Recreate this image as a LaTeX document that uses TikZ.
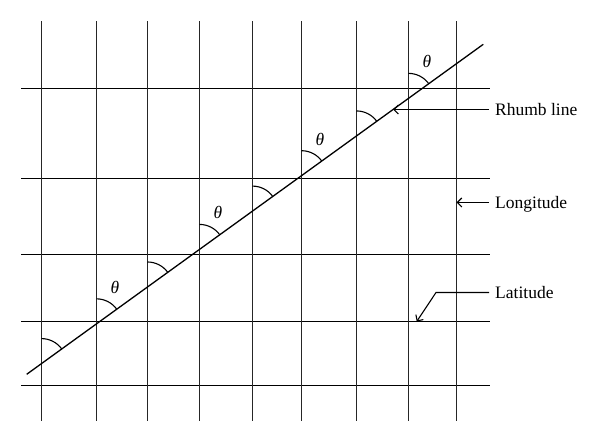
\documentclass[tikz,border=0pt]{standalone}
\usepackage{fontspec}
\setmainfont{Liberation Serif}
\usetikzlibrary{arrows.meta}

\begin{document}
\begin{tikzpicture}[x=1pt,y=1pt,
  meridian/.style={black!85,line width=1.4pt},
  parallel/.style={black,line width=1.4pt},
  pointer/.style={-{Straight Barb[length=4.5pt,width=9pt]},line width=1.1pt},
  tag/.style={anchor=west,inner xsep=6pt,inner ysep=0pt,text height=11.6pt,text depth=0pt,font=\fontsize{17.5}{20}\selectfont}]
  \useasboundingbox (0,0) rectangle (600,443);
  \foreach \y in {354.5,264.5,188.5,121.5,57.5}
    \draw[parallel] (21,\y) -- (490,\y);
  \foreach \x in {41.5,96.5,147.5,199.5,252.5,301.5,356.5,408.5,456.5}
    \draw[meridian] (\x,22) -- (\x,422);
  \coordinate (sw) at (26.7,68.7);
  \coordinate (ne) at (483.3,398.7);
  \draw[line width=1.3pt] (sw) -- (ne);
  \foreach \x [count=\i] in {41.5,96.5,147.5,199.5,252.5,301.5,356.5,408.5} {
    \pgfmathsetmacro\yy{68.7+0.7227*(\x-26.7)}
    \coordinate (p\i) at (\x,\yy);
    \draw[line width=1.1pt] ([yshift=25pt]p\i) arc[start angle=90,end angle=35.9,radius=25pt];
  }
  \foreach \i in {2,4,6,8}
    \node[font=\fontsize{17.5}{20}\selectfont\itshape] (theta\i) at ([shift={(18.5,36.5)}]p\i) {θ};
  \node[tag] (rhumb) at (489,333.5) {Rhumb line};
  \node[tag] (longi) at (489,240.5) {Longitude};
  \node[tag] (lati) at (489,150.5) {Latitude};
  \coordinate (rhumbtip) at (393.1,333.5);
  \coordinate (longitip) at (456.5,240.5);
  \coordinate (bend) at (436,150.5);
  \coordinate (latitip) at (416.7,121.5);
  \draw[pointer] (rhumb.west) -- (rhumbtip);
  \draw[pointer] (longi.west) -- (longitip);
  \draw[pointer] (lati.west) -- (bend) -- (latitip);
\end{tikzpicture}
\end{document}
